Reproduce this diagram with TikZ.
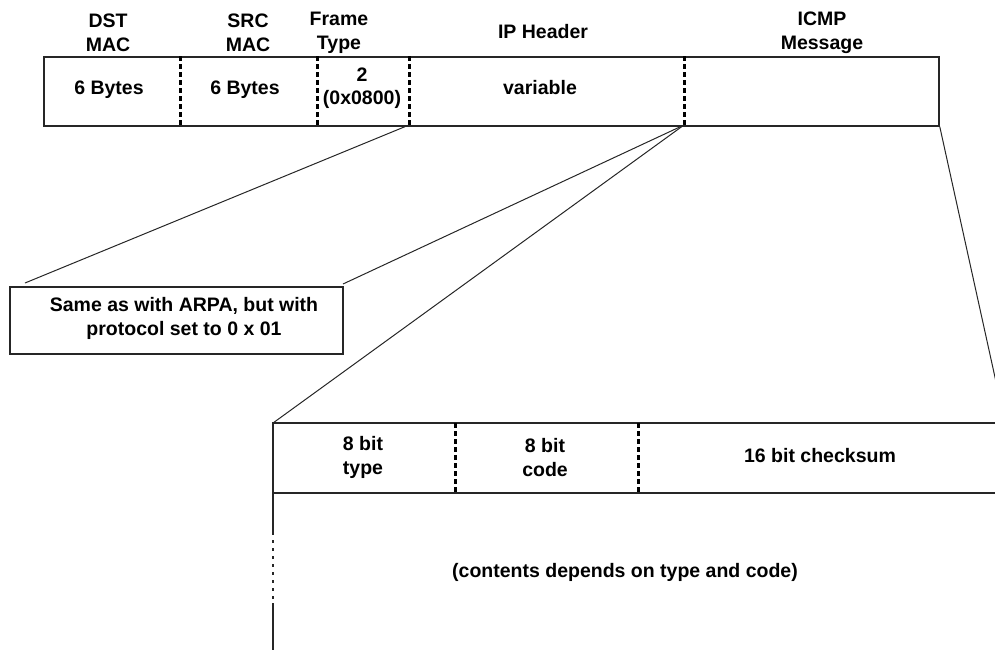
\documentclass[tikz,border=0pt]{standalone}
\usepackage{fontspec}
\setmainfont{Liberation Sans}
\begin{document}
\begin{tikzpicture}[x=1pt,y=-1pt,
  lbl/.style={font=\bfseries\fontsize{19.5}{24}\selectfont, align=center, inner sep=0pt},
  boxline/.style={line width=1.8pt, draw=black!85},
  divider/.style={line width=3pt, dash pattern=on 5pt off 3pt},
  zoomline/.style={line width=1pt, draw=black!85},
  breakline/.style={line width=2.5pt, draw=black!85, dash pattern=on 3pt off 5pt}]
\useasboundingbox (0,0) rectangle (995,649);
\clip (0,0) rectangle (995,649);
% top frame
\node[boxline, draw, rectangle, minimum width=895pt, minimum height=69pt, anchor=north west, inner sep=0pt] (frame) at (43,56) {};
\coordinate (d1t) at (180,56); \coordinate (d1b) at (180,125);
\coordinate (d2t) at (317,56); \coordinate (d2b) at (317,125);
\coordinate (d3t) at (409,56); \coordinate (d3b) at (409,125);
\coordinate (d4t) at (684,56); \coordinate (d4b) at (684,125);
\draw[divider] (d1t) -- (d1b);
\draw[divider] (d2t) -- (d2b);
\draw[divider] (d3t) -- (d3b);
\draw[divider] (d4t) -- (d4b);
% header labels
\node[lbl] (dst) at (108,32.5) {DST\\MAC};
\node[lbl] (src) at (248,32.5) {SRC\\MAC};
\node[lbl] (ftype) at (339,32.5) {Frame\\Type};
\node[lbl] (iph) at (543,32) {IP Header};
\node[lbl] (icmp) at (822,33) {ICMP\\Message};
% field contents
\node[lbl] (b1) at (109,90) {6 Bytes};
\node[lbl] (b2) at (245,90) {6 Bytes};
\node[lbl, font=\bfseries\fontsize{19.5}{23}\selectfont] (ft) at (362,88.5) {2\\(0x0800)};
\node[lbl] (var) at (540,88) {variable};
% ARPA box
\node[boxline, draw, rectangle, minimum width=333pt, minimum height=67pt, anchor=north west, inner sep=0pt] (arpa) at (9,286) {};
\node[lbl] (arpatext) at (184,318.5) {Same as with ARPA, but with\\protocol set to 0 x 01};
% ICMP box
\coordinate (itl) at (273,423);
\coordinate (itr) at (996,423);
\coordinate (ihl) at (273,493);
\coordinate (ihr) at (996,493);
\coordinate (ibl) at (273,650);
\coordinate (brk1) at (273,532);
\coordinate (brk2) at (273,603);
\draw[boxline] (itr) -- (itl) -- (brk1);
\draw[breakline] (brk1) -- (brk2);
\draw[boxline] (brk2) -- (ibl);
\draw[boxline] (ihl) -- (ihr);
\coordinate (e1t) at (455,423); \coordinate (e1b) at (455,493);
\coordinate (e2t) at (638,423); \coordinate (e2b) at (638,493);
\draw[divider] (e1t) -- (e1b);
\draw[divider] (e2t) -- (e2b);
\node[lbl] (typ) at (363,457.5) {8 bit\\type};
\node[lbl] (cod) at (545,457.5) {8 bit\\code};
\node[lbl] (chk) at (820,456) {16 bit checksum};
\node[lbl] (cont) at (625,572) {(contents depends on type and code)};
% zoom connectors
\coordinate (al) at (25,283);
\coordinate (ar) at (343,284);
\coordinate (rend) at (1000,400);
\draw[zoomline] (d3b) -- (al);
\draw[zoomline] (d4b) -- (ar);
\draw[zoomline] (d4b) -- (itl);
\draw[zoomline] (frame.south east) -- (rend);
\end{tikzpicture}
\end{document}
